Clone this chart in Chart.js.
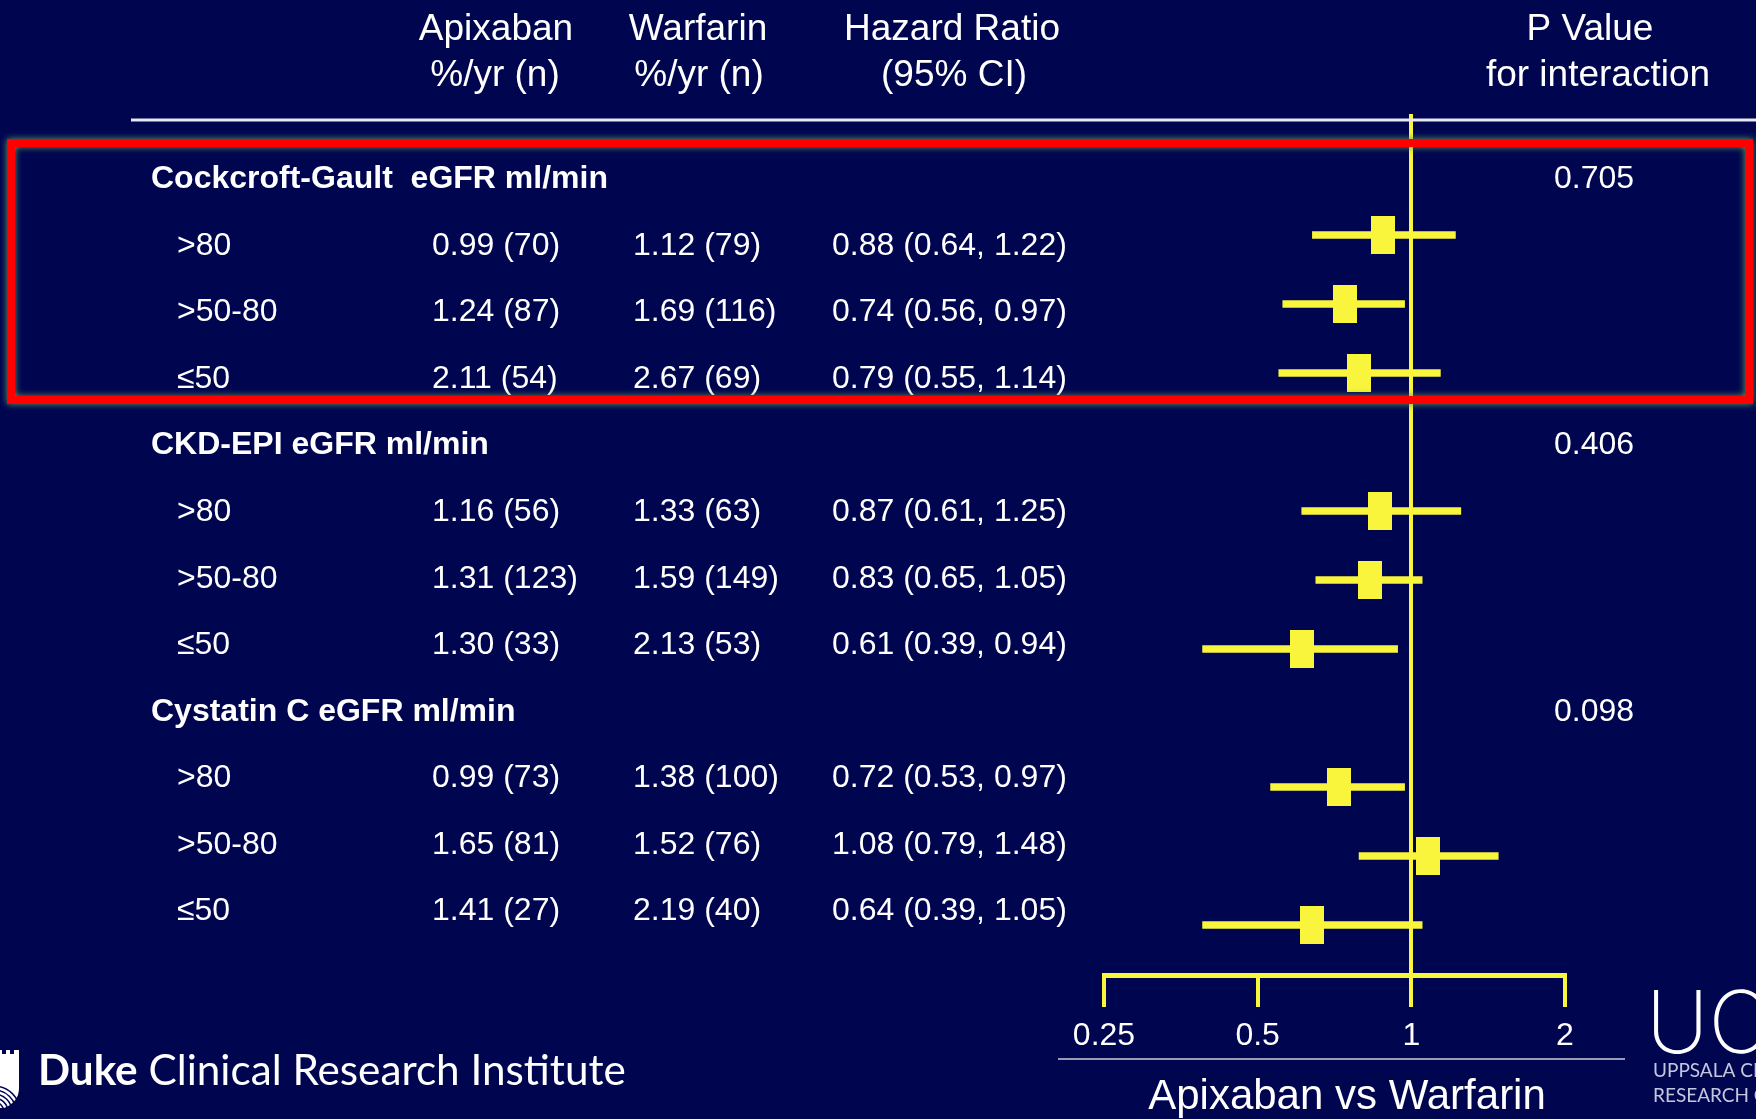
<!DOCTYPE html>
<html>
<head>
<meta charset="utf-8">
<script src="https://cdn.jsdelivr.net/npm/chart.js@4.4.1/dist/chart.umd.min.js"></script>
<style>
  html, body { margin: 0; padding: 0; background: #000550; overflow: hidden; }
  canvas { display: block; }
</style>
</head>
<body>
<canvas id="forest" width="1756" height="1119"></canvas>
<script>
// ---- data -------------------------------------------------------------
const groupNames = ['Cockcroft-Gault  eGFR ml/min', 'CKD-EPI eGFR ml/min', 'Cystatin C eGFR ml/min'];
const pInteraction = ['0.705', '0.406', '0.098'];
const subgroupLabels = ['>80', '>50-80', '≤50'];

const apixRate   = [0.99, 1.24, 2.11, 1.16, 1.31, 1.30, 0.99, 1.65, 1.41];
const apixEvents = [70, 87, 54, 56, 123, 33, 73, 81, 27];
const warfRate   = [1.12, 1.69, 2.67, 1.33, 1.59, 2.13, 1.38, 1.52, 2.19];
const warfEvents = [79, 116, 69, 63, 149, 53, 100, 76, 40];
const hazardRatio = [0.88, 0.74, 0.79, 0.87, 0.83, 0.61, 0.72, 1.08, 0.64];
const ciLower     = [0.64, 0.56, 0.55, 0.61, 0.65, 0.39, 0.53, 0.79, 0.39];
const ciUpper     = [1.22, 0.97, 1.14, 1.25, 1.05, 0.94, 0.97, 1.48, 1.05];

const axisTicks = [0.25, 0.5, 1, 2];

// ---- styling ----------------------------------------------------------
const NAVY = '#000550';
const YELLOW = '#f9f43c';
const WHITE = '#ffffff';
const SANS = '"Liberation Sans", Arial, Helvetica, sans-serif';

// each group takes a header row followed by its three subgroup rows
const rowOf = j => Math.floor(j / 3) * 4 + 1 + (j % 3);
const fmt2 = v => v.toFixed(2);

// yellow box marker for the point estimate
const marker = document.createElement('canvas');
marker.width = 24; marker.height = 38;
{
  const m = marker.getContext('2d');
  m.fillStyle = YELLOW;
  m.fillRect(0, 0, marker.width, marker.height);
}

const ciData = hazardRatio.map((_, j) => ({ x: [ciLower[j], ciUpper[j]], y: rowOf(j) }));
const hrData = hazardRatio.map((v, j) => ({ x: v, y: rowOf(j) }));

const tablePlugin = {
  id: 'forestTable',
  beforeDraw(chart) {
    const { ctx, width, height } = chart;
    ctx.save();
    ctx.fillStyle = NAVY;
    ctx.fillRect(0, 0, width, height);
    ctx.restore();
  },
  afterDraw(chart) {
    const { ctx } = chart;
    const yt = chart.scales.yt;
    ctx.save();

    // column headers
    ctx.fillStyle = WHITE;
    ctx.textAlign = 'center';
    ctx.textBaseline = 'middle';
    ctx.font = '37px ' + SANS;
    ctx.fillText('Apixaban', 496, 30);
    ctx.fillText('%/yr (n)', 495, 76);
    ctx.fillText('Warfarin', 698, 30);
    ctx.fillText('%/yr (n)', 699, 76);
    ctx.fillText('Hazard Ratio', 952, 30);
    ctx.fillText('(95% CI)', 954, 76);
    ctx.fillText('P Value', 1590, 30);
    ctx.fillText('for interaction', 1598, 76);

    // rule under the headers
    ctx.strokeStyle = '#e8e8f4';
    ctx.lineWidth = 3;
    ctx.beginPath();
    ctx.moveTo(131, 120);
    ctx.lineTo(chart.width, 120);
    ctx.stroke();

    // group headers and p values
    groupNames.forEach((name, g) => {
      const y = yt.getPixelForValue(g * 4);
      ctx.textAlign = 'left';
      ctx.font = 'bold 32px ' + SANS;
      ctx.fillText(name, 151, y);
      ctx.textAlign = 'center';
      ctx.font = '32px ' + SANS;
      ctx.fillText(pInteraction[g], 1594, y);
    });

    // subgroup rows
    ctx.font = '32px ' + SANS;
    ctx.textAlign = 'left';
    hazardRatio.forEach((hr, j) => {
      const y = yt.getPixelForValue(rowOf(j));
      ctx.fillText(subgroupLabels[j % 3], 177, y);
      ctx.fillText(fmt2(apixRate[j]) + ' (' + apixEvents[j] + ')', 432, y);
      ctx.fillText(fmt2(warfRate[j]) + ' (' + warfEvents[j] + ')', 633, y);
      ctx.fillText(fmt2(hr) + ' (' + fmt2(ciLower[j]) + ', ' + fmt2(ciUpper[j]) + ')', 832, y);
    });

    // highlight frame around the Cockcroft-Gault block
    ctx.save();
    ctx.strokeStyle = '#ff0000';
    ctx.lineWidth = 8;
    ctx.shadowColor = '#5f9a55';
    ctx.shadowBlur = 7;
    ctx.strokeRect(11, 143, 1738, 257);
    ctx.restore();

    // thin rule between tick labels and axis title
    ctx.strokeStyle = '#9a9ab4';
    ctx.lineWidth = 2;
    ctx.beginPath();
    ctx.moveTo(1058, 1059);
    ctx.lineTo(1625, 1059);
    ctx.stroke();

    // axis title
    ctx.fillStyle = WHITE;
    ctx.textAlign = 'center';
    ctx.textBaseline = 'middle';
    ctx.font = '42px ' + SANS;
    ctx.fillText('Apixaban vs Warfarin', 1347, 1097);

    // Duke Clinical Research Institute footer
    drawShield(ctx);
    ctx.textAlign = 'left';
    ctx.textBaseline = 'alphabetic';
    const dukeFamily = 'Lato, "Open Sans", sans-serif';
    let size = 40;
    ctx.font = 'bold ' + size + 'px ' + dukeFamily;
    let wBold = ctx.measureText('Duke').width;
    ctx.font = size + 'px ' + dukeFamily;
    let wRest = ctx.measureText(' Clinical Research Institute').width;
    size = size * 588 / (wBold + wRest);
    ctx.font = 'bold ' + size + 'px ' + dukeFamily;
    wBold = ctx.measureText('Duke').width;
    ctx.fillText('Duke', 38, 1085);
    ctx.font = size + 'px ' + dukeFamily;
    ctx.fillText(' Clinical Research Institute', 38 + wBold, 1085);

    // UCR mark at the lower right
    ctx.font = '200 86px Inter, Lato, sans-serif';
    ctx.fillText('UC', 1646, 1053);
    ctx.fillStyle = '#c4c6de';
    ctx.font = '19px Lato, "Open Sans", sans-serif';
    ctx.fillText('UPPSALA CLINICAL', 1653, 1077);
    ctx.fillText('RESEARCH CENTER', 1653, 1102);

    ctx.restore();
  }
};

function drawShield(ctx) {
  ctx.save();
  ctx.fillStyle = WHITE;
  ctx.beginPath();
  ctx.moveTo(-8, 1050);
  ctx.lineTo(2, 1050); ctx.lineTo(2, 1054); ctx.lineTo(6, 1054); ctx.lineTo(6, 1050);
  ctx.lineTo(10, 1050); ctx.lineTo(10, 1054); ctx.lineTo(14, 1054); ctx.lineTo(14, 1050);
  ctx.lineTo(19, 1050);
  ctx.lineTo(19, 1088);
  ctx.quadraticCurveTo(19, 1102, 4, 1108);
  ctx.lineTo(-8, 1108);
  ctx.closePath();
  ctx.fill();
  ctx.strokeStyle = NAVY;
  ctx.lineWidth = 1.5;
  for (let k = 0; k < 5; k++) {
    ctx.beginPath();
    ctx.arc(-6, 1112, 10 + k * 4, -Math.PI / 2, 0);
    ctx.stroke();
  }
  ctx.restore();
}

Chart.defaults.font.family = SANS;

new Chart(document.getElementById('forest'), {
  type: 'scatter',
  data: {
    datasets: [
      {
        type: 'bar',
        indexAxis: 'y',
        data: ciData,
        backgroundColor: YELLOW,
        borderWidth: 0,
        barThickness: 7,
        xAxisID: 'x',
        yAxisID: 'y',
        order: 2
      },
      {
        type: 'scatter',
        data: hrData,
        pointStyle: marker,
        pointRadius: 12,
        xAxisID: 'x',
        yAxisID: 'y',
        order: 1
      }
    ]
  },
  options: {
    responsive: false,
    animation: false,
    events: [],
    layout: { padding: { left: 1104, right: 191, top: 114, bottom: 0 } },
    plugins: { legend: { display: false }, tooltip: { enabled: false } },
    scales: {
      x: {
        type: 'logarithmic',
        position: 'bottom',
        min: 0.25,
        max: 2,
        offset: false,
        afterBuildTicks: s => { s.ticks = axisTicks.map(v => ({ value: v })); },
        afterFit: s => { s.height = 144; },
        grid: {
          display: true,
          offset: false,
          drawOnChartArea: true,
          drawTicks: true,
          color: c => (c.tick && c.tick.value === 1 ? YELLOW : 'rgba(0,0,0,0)'),
          lineWidth: 4,
          tickLength: 32,
          tickWidth: 4,
          tickColor: YELLOW
        },
        border: { display: true, color: YELLOW, width: 5 },
        ticks: {
          color: WHITE,
          font: { family: SANS, size: 32 },
          padding: 10,
          maxRotation: 0,
          autoSkip: false,
          callback: v => String(v)
        }
      },
      // plot rows and table rows use slightly different row pitches
      y: { type: 'linear', display: false, reverse: true, offset: false, grid: { offset: false }, min: -0.754, max: 11.725 },
      yt: { type: 'linear', display: false, reverse: true, offset: false, grid: { offset: false }, min: -0.981, max: 11.953 }
    }
  },
  plugins: [tablePlugin]
});
</script>
</body>
</html>
